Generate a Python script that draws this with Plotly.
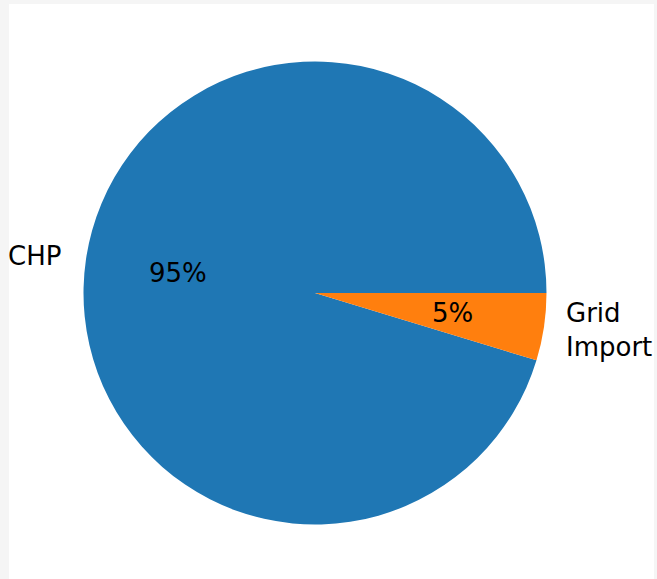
import math
import plotly.graph_objects as go

labels = ["CHP", "Grid Import"]
label_text = ["CHP", "Grid<br>Import"]
values = [95.3, 4.7]
colors = ["#1f77b4", "#ff7f0e"]

W, H = 657, 579
cx, cy, r = 315.0, 293.0, 231.5  # pie centre and radius in px
font = dict(family="DejaVu Sans", size=26, color="black")
total = sum(values)

fig = go.Figure(go.Pie(
    labels=labels, values=values, sort=False, direction="counterclockwise",
    # plotly's ccw mode puts the first slice clockwise of `rotation`;
    # shift so the first slice starts at 3 o'clock and runs counterclockwise
    rotation=90 - 360 * values[0] / total,
    textinfo="none", hoverinfo="label+percent",
    marker=dict(colors=colors, line=dict(width=0)),
    domain=dict(x=[(cx - r) / W, (cx + r) / W], y=[(H - cy - r) / H, (H - cy + r) / H]),
    showlegend=False,
))

start = 0.0
annotations = []
for lab, v in zip(label_text, values):
    frac = v / total
    mid = math.radians(360 * (start + frac / 2))
    start += frac
    px, py = cx + 0.6 * r * math.cos(mid), cy - 0.6 * r * math.sin(mid)
    annotations.append(dict(x=px / W, y=1 - py / H, xref="paper", yref="paper",
                            text=f"{round(frac * 100):.0f}%", showarrow=False,
                            xanchor="center", yanchor="middle", font=font))
    lx, ly = cx + 1.1 * r * math.cos(mid), cy - 1.1 * r * math.sin(mid)
    right = math.cos(mid) > 0
    annotations.append(dict(x=lx / W, y=1 - ly / H, xref="paper", yref="paper",
                            text=lab, showarrow=False, align="left",
                            xanchor="left" if right else "right",
                            xshift=-3 if right else 0,
                            yanchor="middle", font=font))

fig.update_layout(
    width=W, height=H, margin=dict(l=0, r=0, t=0, b=0),
    paper_bgcolor="#f5f5f5", plot_bgcolor="white",
    annotations=annotations,
    shapes=[dict(type="rect", xref="paper", yref="paper", x0=9 / W, x1=654 / W,
                 y0=0, y1=1 - 4 / H, fillcolor="white", line=dict(width=0), layer="below")],
)
fig.write_html("out.html", config={"displayModeBar": False},
               post_script="document.body.style.margin='0';document.body.style.overflow='hidden';")
